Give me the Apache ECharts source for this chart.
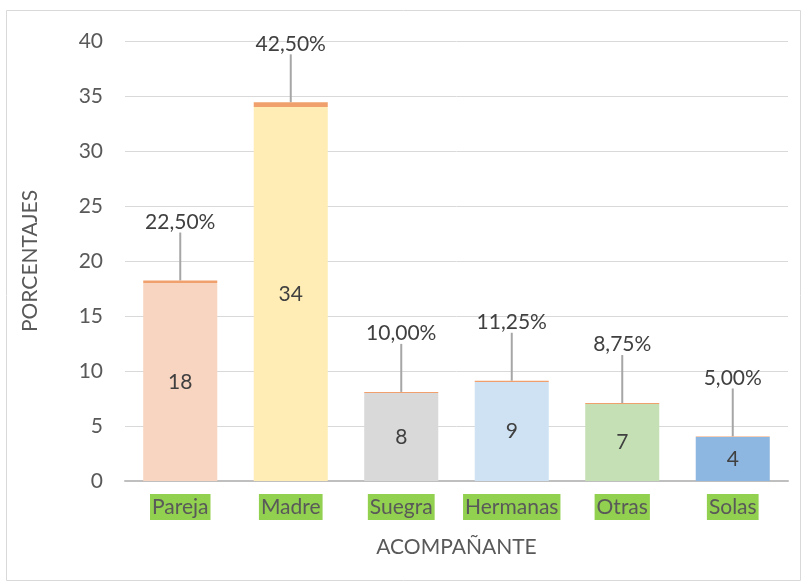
<!DOCTYPE html>
<html>
<head>
<meta charset="utf-8">
<script src="https://cdn.jsdelivr.net/npm/echarts@6/dist/echarts.min.js"></script>
<style>
html, body { margin: 0; padding: 0; background: #fff; }
#chart { width: 808px; height: 586px; }
</style>
</head>
<body>
<div id="chart"></div>
<script>
// acompañante durante el parto
const categories = ['Pareja', 'Madre', 'Suegra', 'Hermanas', 'Otras', 'Solas']
const counts = [18, 34, 8, 9, 7, 4]
const percents = [22.5, 42.5, 10, 11.25, 8.75, 5]
const yTicks = [0, 5, 10, 15, 20, 25, 30, 35, 40]

const barColors = ['#F8D5C0', '#FFEDB5', '#D9D9D9', '#CFE2F3', '#C5E0B4', '#8DB6E0']
const stripColor = '#F0A06C'
const textFont = 'Lato'
const fs = 21

const chart = echarts.init(document.getElementById('chart'))

chart.setOption({
    animation: false,
    textStyle: { fontFamily: textFont },
    graphic: [{
        type: 'rect',
        shape: { x: 6.5, y: 10.5, width: 794, height: 570 },
        style: { fill: 'none', stroke: '#D9D9D9', lineWidth: 1 },
        silent: true
    }],
    grid: {
        left: 125,
        right: 20,
        top: 41,
        bottom: 105
    },
    xAxis: {
        type: 'category',
        data: categories,
        name: 'ACOMPAÑANTE',
        nameLocation: 'middle',
        nameGap: 56,
        nameTextStyle: { fontSize: fs, color: '#595959', fontFamily: textFont },
        axisTick: { show: false },
        axisLine: { lineStyle: { color: '#BFBFBF', width: 2 } },
        axisLabel: {
            interval: 0,
            margin: 13,
            fontSize: fs,
            color: '#595959',
            backgroundColor: '#92D050',
            padding: [3, 2, 2, 2],
            fontFamily: textFont
        }
    },
    yAxis: {
        type: 'value',
        min: yTicks[0],
        max: yTicks[yTicks.length - 1],
        interval: 5,
        name: 'PORCENTAJES',
        nameLocation: 'middle',
        nameGap: 84,
        nameTextStyle: { fontSize: fs, color: '#595959', fontFamily: textFont },
        axisLine: { show: false },
        axisTick: { show: false },
        axisLabel: { fontSize: fs, color: '#595959', margin: 22, fontFamily: textFont },
        splitLine: { lineStyle: { color: '#D9D9D9', width: 1 } }
    },
    series: [
        {
            name: 'Frecuencia',
            type: 'bar',
            stack: 'total',
            barWidth: '67%',
            data: counts.map((v, i) => ({ value: v, itemStyle: { color: barColors[i] } })),
            label: {
                show: true,
                position: 'inside',
                fontSize: fs,
                color: '#404040',
                fontFamily: textFont
            }
        },
        {
            name: 'Porcentaje',
            type: 'bar',
            stack: 'total',
            data: percents.map(p => p / 100),
            itemStyle: { color: stripColor },
            label: {
                show: true,
                position: 'top',
                distance: 4,
                fontSize: fs,
                color: '#404040',
                fontFamily: textFont,
                formatter: p => percents[p.dataIndex].toFixed(2).replace('.', ',') + '%'
            },
            labelLayout: { dy: -44 },
            labelLine: {
                show: true,
                lineStyle: { color: '#A6A6A6', width: 2 }
            }
        }
    ]
})
</script>
</body>
</html>
